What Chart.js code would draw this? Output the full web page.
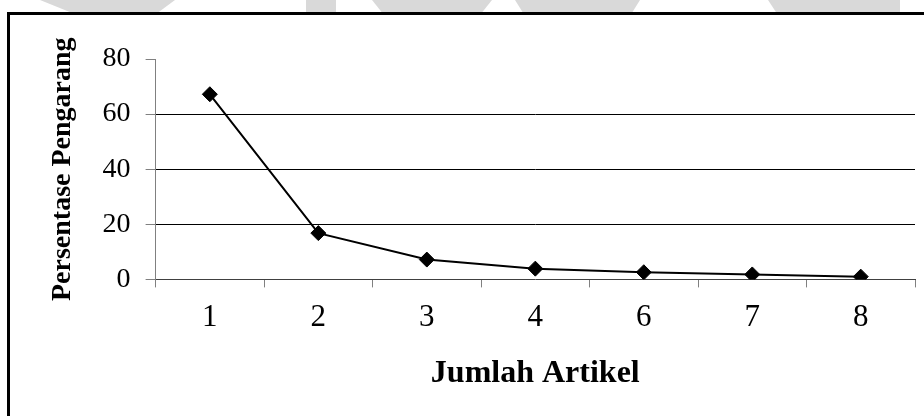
<!DOCTYPE html>
<html>
<head>
<meta charset="utf-8">
<script src="https://cdn.jsdelivr.net/npm/chart.js@4/dist/chart.umd.min.js"></script>
<style>
  html, body { margin: 0; padding: 0; background: #fff; overflow: hidden; }
  #wrap { position: absolute; left: 0; top: 0; width: 924px; height: 416px; }
  #frame { position: absolute; left: 7px; top: 12px; width: 940px; height: 430px; border: 3px solid #000; box-sizing: border-box; pointer-events: none; }
  .wm { position: absolute; background: #d9d9d9; top: 0; height: 12px; }
</style>
</head>
<body>
<div id="wrap">
  <div class="wm" style="left:40px;width:135px;clip-path:polygon(0 0,100% 0,88% 100%,22% 100%);"></div>
  <div class="wm" style="left:306px;width:30px;"></div>
  <div class="wm" style="left:372px;width:120px;clip-path:polygon(0 0,100% 0,92% 100%,8% 100%);"></div>
  <div class="wm" style="left:515px;width:125px;clip-path:polygon(0 0,100% 0,94% 100%,6% 100%);"></div>
  <div class="wm" style="left:768px;width:132px;clip-path:polygon(0 0,100% 0,100% 100%,6% 100%);"></div>
  <canvas id="c" width="924" height="416"></canvas>
  <div id="frame"></div>
</div>
<script>
const categories = ['1', '2', '3', '4', '6', '7', '8'];
const persentase = [67.2, 16.8, 7.2, 3.9, 2.6, 1.8, 1.0];
const yTicks = [0, 20, 40, 60, 80];
const xTitle = 'Jumlah Artikel';
const yTitle = 'Persentase Pengarang';

const serif = '"Liberation Serif", "Times New Roman", serif';

new Chart(document.getElementById('c'), {
  type: 'line',
  data: {
    labels: categories,
    datasets: [{
      data: persentase,
      borderColor: '#000',
      borderWidth: 2,
      backgroundColor: '#000',
      pointStyle: 'rectRot',
      pointRadius: 7.5,
      pointBorderWidth: 1,
      pointBorderColor: '#000',
      pointBackgroundColor: '#000',
      tension: 0,
      fill: false
    }]
  },
  options: {
    responsive: false,
    animation: false,
    layout: { padding: { left: 46, top: 59, right: 9, bottom: 23 } },
    plugins: { legend: { display: false }, tooltip: { enabled: false } },
    scales: {
      x: {
        type: 'category',
        offset: true,
        grid: { offset: true, drawOnChartArea: false, tickLength: 8, tickColor: '#808080', tickWidth: 1 },
        border: { color: '#404040', width: 1 },
        ticks: { color: '#000', font: { family: serif, size: 31 }, padding: 12, maxRotation: 0 },
        title: { display: true, text: xTitle, color: '#000', font: { family: serif, size: 32, weight: 'bold' }, padding: { top: 6, bottom: 0 } }
      },
      y: {
        min: 0, max: 80,
        afterBuildTicks: (s) => { s.ticks = yTicks.map(v => ({ value: v })); },
        grid: {
          color: (ctx) => (ctx.tick && ctx.tick.value > 0 && ctx.tick.value < 80) ? '#000' : 'rgba(0,0,0,0)',
          tickColor: '#808080', tickLength: 10, lineWidth: 1
        },
        border: { color: '#808080', width: 1 },
        ticks: { color: '#000', font: { family: serif, size: 28 }, padding: 15 },
        title: { display: true, text: yTitle, color: '#000', font: { family: serif, size: 28, weight: 'bold' }, padding: { top: 0, bottom: 8 } }
      }
    }
  }
});
</script>
</body>
</html>
